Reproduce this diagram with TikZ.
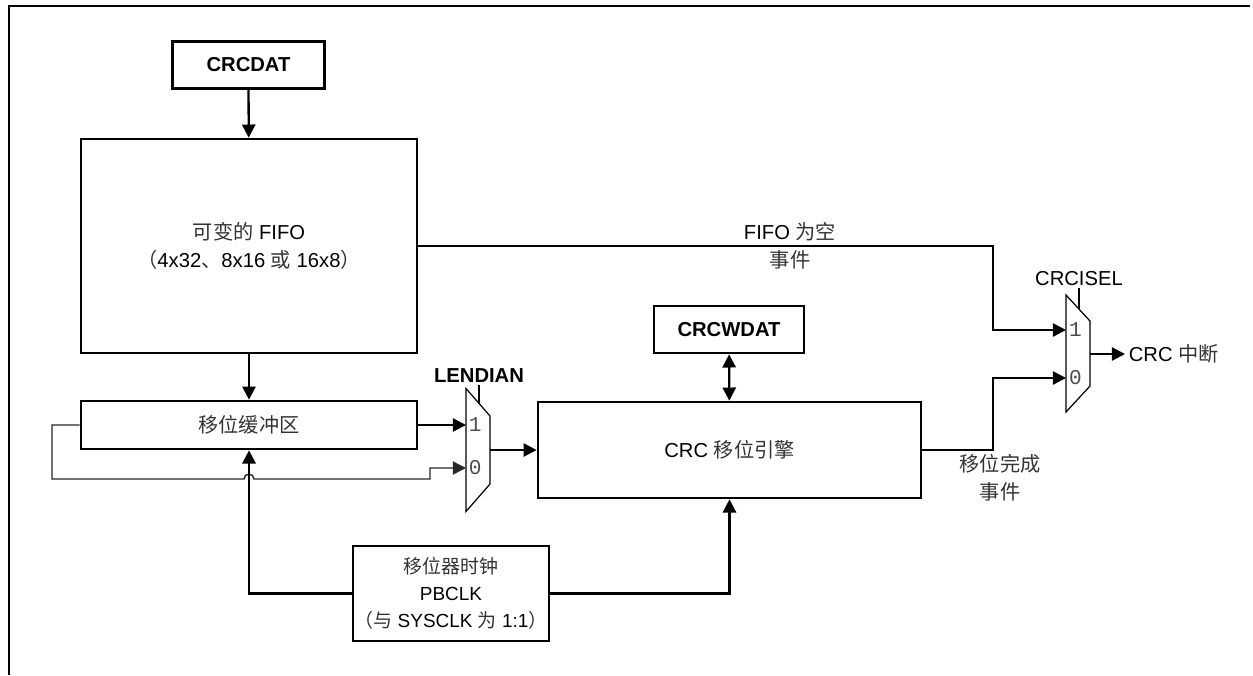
\documentclass[tikz,border=0pt]{standalone}
\usepackage{fontspec}
\setmainfont{Liberation Sans}
\setmonofont{Liberation Mono}
\newfontfamily\cjk{Noto Sans CJK SC}
\usetikzlibrary{arrows.meta, positioning, calc}
\newcommand{\zh}[1]{{\cjk\color{black!80}#1}}

\begin{document}
\begin{tikzpicture}[
        font=\fontsize{11.5}{16}\selectfont,
        box/.style={draw, line width=1.5pt, align=center, inner sep=0pt},
        regbox/.style={box, font=\fontsize{11.5}{16}\selectfont\bfseries, minimum width=3.03cm, minimum height=0.94cm},
        link/.style={line width=1.3pt},
        wire/.style={link, -{Triangle[length=7.5pt, width=7.5pt]}},
        thinwire/.style={line width=0.8pt, black!85, -{Triangle[length=7.5pt, width=7.5pt]}},
        muxline/.style={line width=0.7pt},
        muxlbl/.style={font=\fontsize{12}{13}\selectfont\ttfamily, text=black!70, anchor=west, inner sep=1.5pt}
    ]
        \useasboundingbox (0,0) rectangle (25.06,-13.5);
        \draw[line width=1.7pt] (0.18,-13.5) -- (0.18,-0.12) -- (25.0,-0.12);

        % blocks
        \node[regbox] (crcdat) at (4.97,-1.3) {CRCDAT};
        \node[box, minimum width=6.72cm, minimum height=4.28cm] (fifo) at (4.98,-4.92)
            {\zh{可变的} FIFO\\\zh{（}4x32\zh{、}8x16 \zh{或} 16x8\zh{）}};
        \node[box, minimum width=6.72cm, minimum height=0.96cm] (buf) at (4.98,-8.5) {\zh{移位缓冲区}};
        \node[box, minimum width=7.66cm, minimum height=1.92cm] (eng) at (14.59,-9.0) {CRC \zh{移位引擎}};
        \node[regbox, minimum width=3.0cm] (crcwdat) at (14.58,-6.59) {CRCWDAT};
        \node[box, font=\fontsize{10.8}{15.5}\selectfont, minimum width=3.92cm, minimum height=1.9cm] (clk) at (9.02,-11.87)
            {\zh{移位器时钟}\\PBCLK\\\zh{（与} SYSCLK \zh{为} 1:1\zh{）}};

        % LENDIAN mux
        \draw[muxline] (9.32,-7.77) -- (9.8,-8.32) -- (9.8,-9.68) -- (9.32,-10.23) -- cycle;
        \coordinate (lmux in1) at (9.32,-8.5);
        \coordinate (lmux in0) at (9.32,-9.36);
        \coordinate (lmux out) at (9.8,-9.0);
        \draw[muxline] (9.58,-8.07) -- (9.58,-7.7) node[above, font=\fontsize{11.5}{16}\selectfont\bfseries, inner sep=1pt] (lendian) {LENDIAN};
        \node[muxlbl] at (lmux in1) {1};
        \node[muxlbl] at (lmux in0) {0};

        % CRCISEL mux
        \draw[muxline] (21.32,-5.9) -- (21.8,-6.42) -- (21.8,-7.72) -- (21.32,-8.24) -- cycle;
        \coordinate (cmux in1) at (21.32,-6.6);
        \coordinate (cmux in0) at (21.32,-7.56);
        \coordinate (cmux out) at (21.8,-7.08);
        \draw[muxline] (21.58,-6.18) -- (21.58,-5.76) node[above, inner sep=1pt] (crcisel) {CRCISEL};
        \node[muxlbl] at (cmux in1) {1};
        \node[muxlbl] at (cmux in0) {0};

        \node[anchor=west, inner sep=2pt] (irq) at (22.5,-7.08) {CRC \zh{中断}};

        % connections
        \draw[wire] (crcdat) -- (fifo);
        \draw[wire] (fifo) -- (buf);
        \draw[wire] (buf.east) -- (lmux in1);
        \draw[thinwire] (buf.west) -- (1.04,-8.5) -- (1.04,-9.58) -- (4.88,-9.58)
            arc[start angle=180, end angle=0, radius=0.1] -- (8.6,-9.58) -- (8.6,-9.36) -- (lmux in0);
        \draw[wire] (lmux out) -- (eng.west);
        \draw[link, {Triangle[length=7.5pt, width=7.5pt]}-{Triangle[length=7.5pt, width=7.5pt]}] (crcwdat) -- (eng);
        \draw[wire] (clk.west) -| (buf.south);
        \draw[wire] (clk.east) -| (eng.south);
        \draw[wire] (fifo.east) -- (19.86,-4.92) |- (cmux in1);
        \draw[wire] (eng.east) -- (19.86,-9.0) |- (cmux in0);
        \draw[wire] (cmux out) -- (irq.west);

        % event labels
        \node[align=center] (fifoev) at (15.8,-4.92) {FIFO \zh{为空}\\\zh{事件}};
        \node[align=center] (shiftev) at (20.0,-9.56) {\zh{移位完成}\\\zh{事件}};
    \end{tikzpicture}
\end{document}
